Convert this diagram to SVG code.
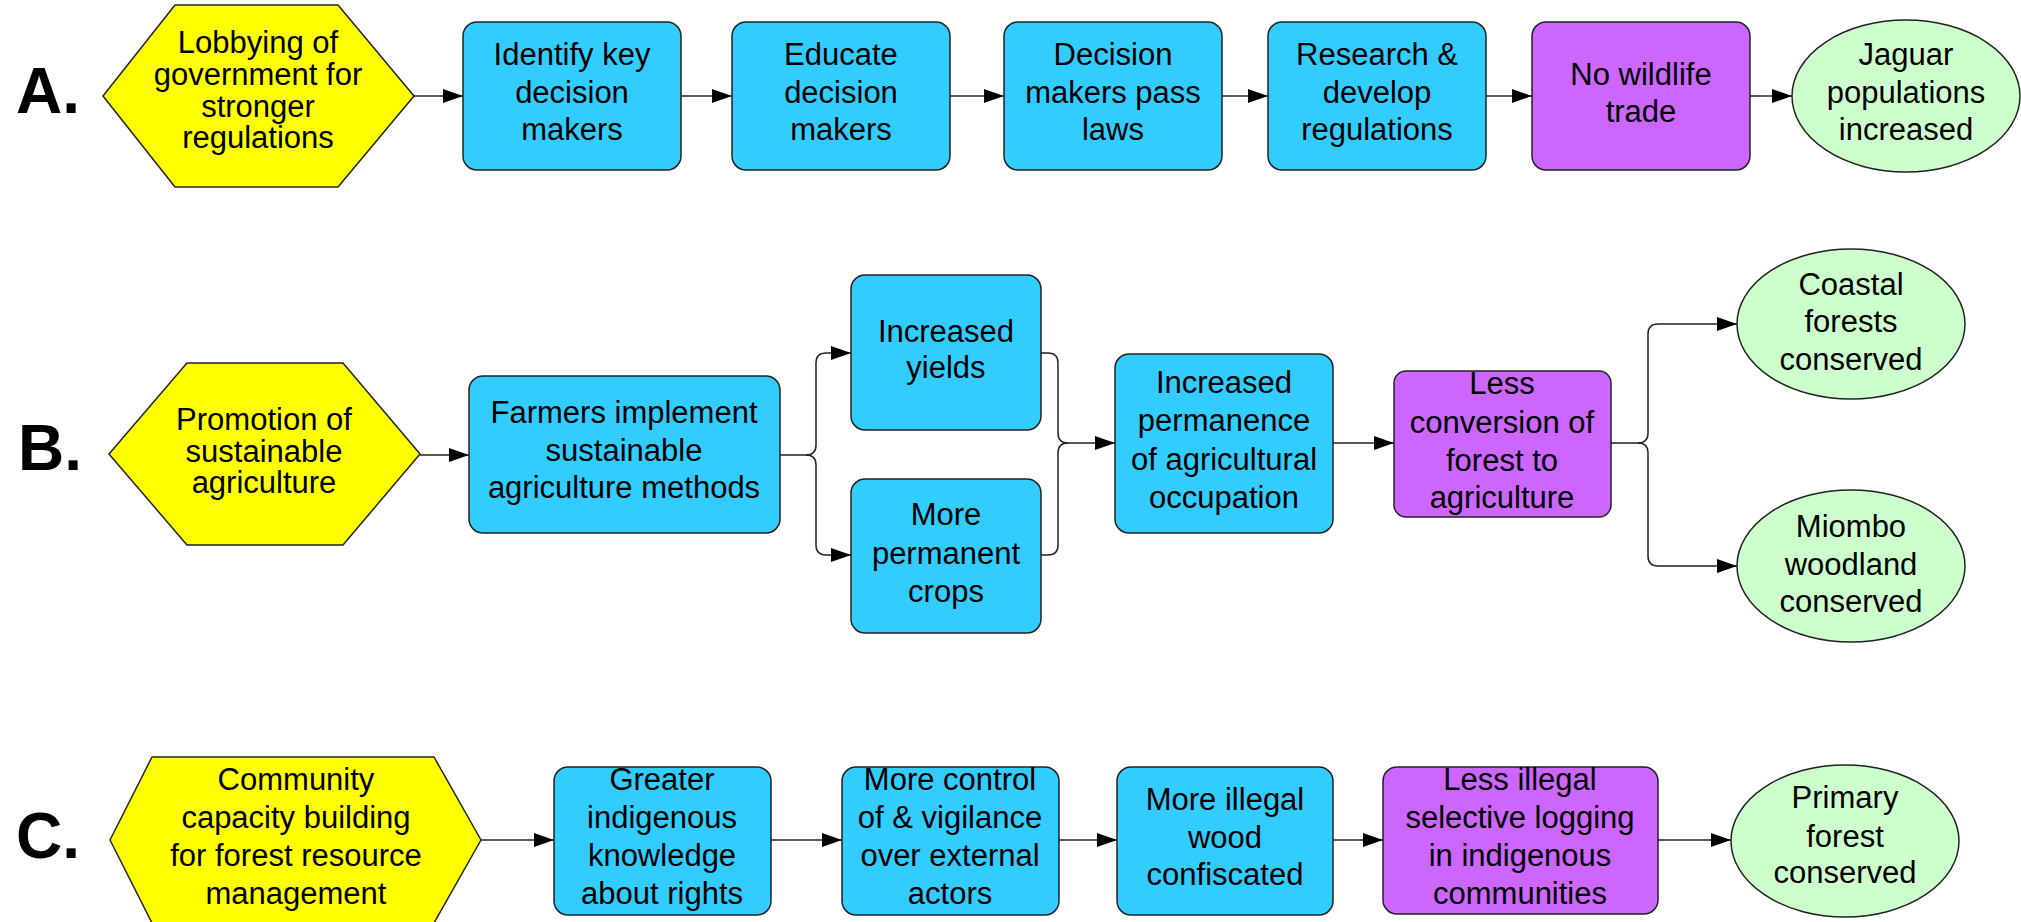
<svg xmlns="http://www.w3.org/2000/svg" width="2021" height="922" viewBox="0 0 2021 922">
<defs>
<style>
.hex{fill:#FFFF00;stroke:#222;stroke-width:1.5;stroke-linejoin:round}
.act{fill:#33CCFF;stroke:#222;stroke-width:1.5}
.res{fill:#CC66FF;stroke:#222;stroke-width:1.5}
.goal{fill:#CCFFCC;stroke:#222;stroke-width:1.5}
.t{font-family:"Liberation Sans",Arial,sans-serif;font-size:31px;text-anchor:middle;fill:#000}
.lbl{font-family:"Liberation Sans",Arial,sans-serif;font-weight:bold;font-size:64px;fill:#000}
.conn path{fill:none;stroke:#222;stroke-width:1.5;marker-end:url(#ah)}
</style>
<marker id="ah" markerUnits="userSpaceOnUse" markerWidth="20" markerHeight="14" refX="20" refY="7" orient="auto">
<path d="M0,0 L20,7 L0,14 z" fill="#000"/>
</marker>
</defs>
<rect width="2021" height="922" fill="#fff"/>

<text class="lbl" x="16" y="113">A.</text>
<text class="lbl" x="18" y="470">B.</text>
<text class="lbl" x="16" y="858">C.</text>

<g class="conn" id="connectors">
<path d="M414,96 H463"/>
<path d="M681,96 H732"/>
<path d="M950,96 H1004"/>
<path d="M1222,96 H1268"/>
<path d="M1486,96 H1532"/>
<path d="M1750,96 H1792"/>
<path d="M420,455 H469"/>
<path d="M780,455 H806 Q816,455 816,445 V363 Q816,353 826,353 H851"/>
<path d="M806,455 Q816,455 816,465 V545 Q816,555 826,555 H851"/>
<path d="M1041,353 H1048 Q1058,353 1058,363 V433 Q1058,443 1068,443 H1115"/>
<path d="M1041,555 H1048 Q1058,555 1058,545 V453 Q1058,443 1068,443" style="marker-end:none"/>
<path d="M1333,443 H1394"/>
<path d="M1611,443 H1638 Q1648,443 1648,433 V334 Q1648,324 1658,324 H1737"/>
<path d="M1638,443 Q1648,443 1648,453 V556 Q1648,566 1658,566 H1737"/>
<path d="M481,840 H554"/>
<path d="M771,840 H842"/>
<path d="M1059,840 H1117"/>
<path d="M1333,840 H1383"/>
<path d="M1658,840 H1731"/>
</g>

<g id="a_lobbying">
<polygon class="hex" points="103,96 175,5 338,5 414,96 338,187 175,187"/>
<text class="t"><tspan x="258" y="53">Lobbying of</tspan><tspan x="258" y="85">government for</tspan><tspan x="258" y="117">stronger</tspan><tspan x="258" y="148">regulations</tspan></text>
</g>
<g id="a_identify">
<rect class="act" x="463" y="22" width="218" height="148" rx="14"/>
<text class="t"><tspan x="572" y="65">Identify key</tspan><tspan x="572" y="103">decision</tspan><tspan x="572" y="140">makers</tspan></text>
</g>
<g id="a_educate">
<rect class="act" x="732" y="22" width="218" height="148" rx="14"/>
<text class="t"><tspan x="841" y="65">Educate</tspan><tspan x="841" y="103">decision</tspan><tspan x="841" y="140">makers</tspan></text>
</g>
<g id="a_pass">
<rect class="act" x="1004" y="22" width="218" height="148" rx="14"/>
<text class="t"><tspan x="1113" y="65">Decision</tspan><tspan x="1113" y="103">makers pass</tspan><tspan x="1113" y="140">laws</tspan></text>
</g>
<g id="a_research">
<rect class="act" x="1268" y="22" width="218" height="148" rx="14"/>
<text class="t"><tspan x="1377" y="65">Research &amp;</tspan><tspan x="1377" y="103">develop</tspan><tspan x="1377" y="140">regulations</tspan></text>
</g>
<g id="a_notrade">
<rect class="res" x="1532" y="22" width="218" height="148" rx="14"/>
<text class="t"><tspan x="1641" y="85">No wildlife</tspan><tspan x="1641" y="122">trade</tspan></text>
</g>
<g id="a_jaguar">
<ellipse class="goal" cx="1906" cy="96" rx="114" ry="76"/>
<text class="t"><tspan x="1906" y="65">Jaguar</tspan><tspan x="1906" y="103">populations</tspan><tspan x="1906" y="140">increased</tspan></text>
</g>

<g id="b_promotion">
<polygon class="hex" points="109,454 187,363 343,363 420,454 343,545 187,545"/>
<text class="t"><tspan x="264" y="430">Promotion of</tspan><tspan x="264" y="462">sustainable</tspan><tspan x="264" y="493">agriculture</tspan></text>
</g>
<g id="b_farmers">
<rect class="act" x="469" y="376" width="311" height="157" rx="14"/>
<text class="t"><tspan x="624" y="423">Farmers implement</tspan><tspan x="624" y="461">sustainable</tspan><tspan x="624" y="498">agriculture methods</tspan></text>
</g>
<g id="b_yields">
<rect class="act" x="851" y="275" width="190" height="155" rx="14"/>
<text class="t"><tspan x="946" y="342">Increased</tspan><tspan x="946" y="378">yields</tspan></text>
</g>
<g id="b_crops">
<rect class="act" x="851" y="479" width="190" height="154" rx="14"/>
<text class="t"><tspan x="946" y="525">More</tspan><tspan x="946" y="564">permanent</tspan><tspan x="946" y="602">crops</tspan></text>
</g>
<g id="b_permanence">
<rect class="act" x="1115" y="354" width="218" height="179" rx="14"/>
<text class="t"><tspan x="1224" y="393">Increased</tspan><tspan x="1224" y="431">permanence</tspan><tspan x="1224" y="470">of agricultural</tspan><tspan x="1224" y="508">occupation</tspan></text>
</g>
<g id="b_conversion">
<rect class="res" x="1394" y="371" width="217" height="146" rx="12"/>
<text class="t"><tspan x="1502" y="394">Less</tspan><tspan x="1502" y="433">conversion of</tspan><tspan x="1502" y="471">forest to</tspan><tspan x="1502" y="508">agriculture</tspan></text>
</g>
<g id="b_coastal">
<ellipse class="goal" cx="1851" cy="324" rx="114" ry="75"/>
<text class="t"><tspan x="1851" y="295">Coastal</tspan><tspan x="1851" y="332">forests</tspan><tspan x="1851" y="370">conserved</tspan></text>
</g>
<g id="b_miombo">
<ellipse class="goal" cx="1851" cy="566" rx="114" ry="76"/>
<text class="t"><tspan x="1851" y="537">Miombo</tspan><tspan x="1851" y="575">woodland</tspan><tspan x="1851" y="612">conserved</tspan></text>
</g>

<g id="c_capacity">
<polygon class="hex" points="110,840 152,757 434,757 481,840 434,923 152,923"/>
<text class="t"><tspan x="296" y="790">Community</tspan><tspan x="296" y="828">capacity building</tspan><tspan x="296" y="866">for forest resource</tspan><tspan x="296" y="904">management</tspan></text>
</g>
<g id="c_knowledge">
<rect class="act" x="554" y="767" width="217" height="148" rx="14"/>
<text class="t"><tspan x="662" y="790">Greater</tspan><tspan x="662" y="828">indigenous</tspan><tspan x="662" y="866">knowledge</tspan><tspan x="662" y="904">about rights</tspan></text>
</g>
<g id="c_control">
<rect class="act" x="842" y="767" width="217" height="148" rx="14"/>
<text class="t"><tspan x="950" y="790">More control</tspan><tspan x="950" y="828">of &amp; vigilance</tspan><tspan x="950" y="866">over external</tspan><tspan x="950" y="904">actors</tspan></text>
</g>
<g id="c_confiscated">
<rect class="act" x="1117" y="767" width="216" height="148" rx="14"/>
<text class="t"><tspan x="1225" y="810">More illegal</tspan><tspan x="1225" y="848">wood</tspan><tspan x="1225" y="885">confiscated</tspan></text>
</g>
<g id="c_logging">
<rect class="res" x="1383" y="767" width="275" height="147" rx="14"/>
<text class="t"><tspan x="1520" y="790">Less illegal</tspan><tspan x="1520" y="828">selective logging</tspan><tspan x="1520" y="866">in indigenous</tspan><tspan x="1520" y="904">communities</tspan></text>
</g>
<g id="c_primary">
<ellipse class="goal" cx="1845" cy="841" rx="114" ry="76"/>
<text class="t"><tspan x="1845" y="808">Primary</tspan><tspan x="1845" y="847">forest</tspan><tspan x="1845" y="883">conserved</tspan></text>
</g>
</svg>
